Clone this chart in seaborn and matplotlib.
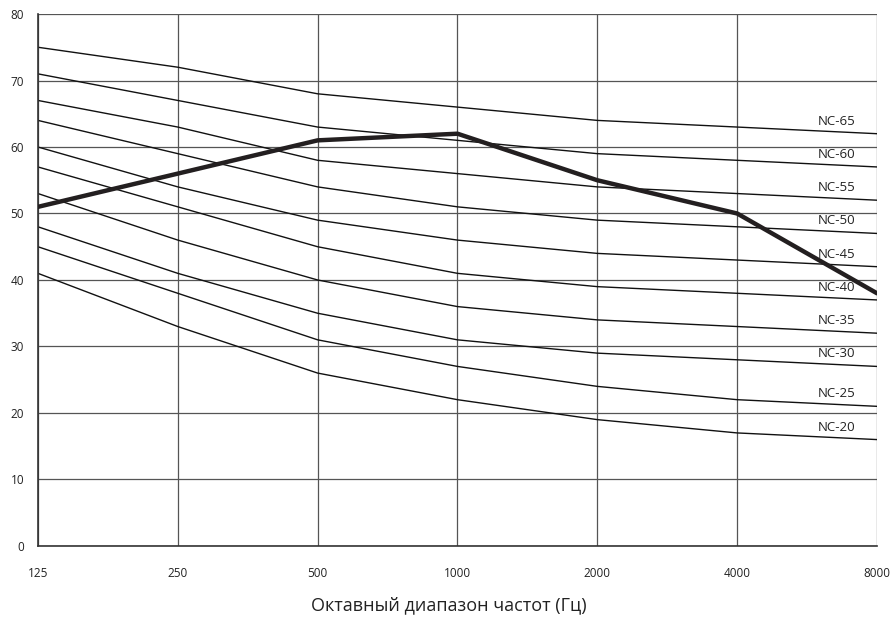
import numpy as np
import pandas as pd
import matplotlib
matplotlib.use("Agg")
import matplotlib.pyplot as plt
import seaborn as sns

# Octave-band centre frequencies (Hz)
freqs = [125, 250, 500, 1000, 2000, 4000, 8000]
freq_labels = ["125", "250", "500", "1000", "2000", "4000", "8000"]

# NC (noise criterion) curves, dB
nc_names = ["NC-65", "NC-60", "NC-55", "NC-50", "NC-45",
            "NC-40", "NC-35", "NC-30", "NC-25", "NC-20"]
nc65 = [75, 72, 68, 66, 64, 63, 62]
nc60 = [71, 67, 63, 61, 59, 58, 57]
nc55 = [67, 63, 58, 56, 54, 53, 52]
nc50 = [64, 59, 54, 51, 49, 48, 47]
nc45 = [60, 54, 49, 46, 44, 43, 42]
nc40 = [57, 51, 45, 41, 39, 38, 37]
nc35 = [53, 46, 40, 36, 34, 33, 32]
nc30 = [48, 41, 35, 31, 29, 28, 27]
nc25 = [45, 38, 31, 27, 24, 22, 21]
nc20 = [41, 33, 26, 22, 19, 17, 16]
nc_values = [nc65, nc60, nc55, nc50, nc45, nc40, nc35, nc30, nc25, nc20]

# Measured spectrum
measured = [51, 56, 61, 62, 55, 50, 38]

sns.set_theme(style="white")
plt.rcParams["font.family"] = ["Open Sans", "DejaVu Sans"]

fig = plt.figure(figsize=(8.91, 6.2), dpi=100)
ax = fig.add_axes([0.0426, 0.1194, 0.9417, 0.8580])

rows = []
for name, vals in zip(nc_names, nc_values):
    for f, v in zip(freqs, vals):
        rows.append({"freq": f, "level": v, "curve": name})
df_nc = pd.DataFrame(rows)
df_meas = pd.DataFrame({"freq": freqs, "level": measured})

sns.lineplot(data=df_nc, x="freq", y="level", units="curve", estimator=None,
             color="#111111", linewidth=1.0, ax=ax, legend=False)
sns.lineplot(data=df_meas, x="freq", y="level", color="#231f20",
             linewidth=3.2, ax=ax, legend=False, zorder=5)

ax.set_xscale("log", base=2)
ax.set_xlim(125, 8000)
ax.set_ylim(0, 80)
ax.set_xticks(freqs)
ax.set_xticklabels(freq_labels)
ax.xaxis.set_minor_locator(matplotlib.ticker.NullLocator())
ax.set_yticks(np.arange(0, 81, 10))

ax.grid(True, color="#555555", linewidth=0.9)
ax.set_axisbelow(True)
for side in ["top", "right"]:
    ax.spines[side].set_visible(False)
for side in ["left", "bottom"]:
    ax.spines[side].set_color("#333333")
    ax.spines[side].set_linewidth(1.2)

ax.tick_params(axis="both", which="major", direction="out", length=4,
               width=0.8, color="#333333", labelsize=8.5, labelcolor="#222222")
ax.tick_params(axis="x", pad=11)
ax.tick_params(axis="y", pad=6)

ax.set_xlabel("Октавный диапазон частот (Гц)", fontsize=13,
              color="#222222")
ax.xaxis.set_label_coords(0.49, -0.094)
ax.set_ylabel("")

# Curve names near the right end, just above each line
lx = 4000 * 2 ** 0.71
for name, vals in zip(nc_names, nc_values):
    ly = np.interp(np.log2(lx), np.log2(freqs), vals) + 1.6
    ax.text(lx, ly, name, fontsize=9.5, ha="center", va="center",
            color="#222222")

fig.savefig("out.png", dpi=100)
